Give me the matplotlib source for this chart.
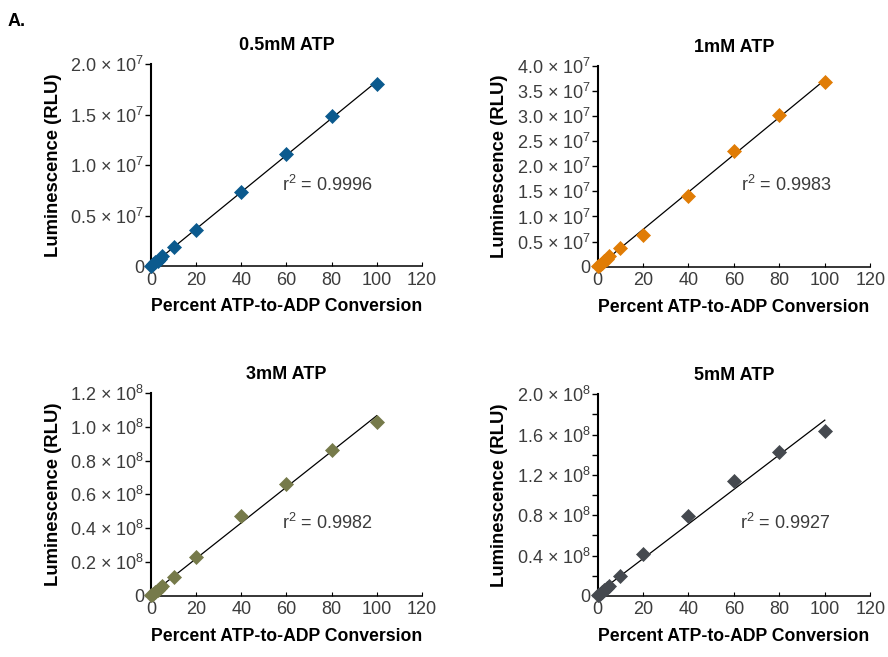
import matplotlib.pyplot as plt
import numpy as np

plt.rcParams["mathtext.fontset"] = "custom"
plt.rcParams["mathtext.rm"] = "Liberation Sans"
plt.rcParams["mathtext.it"] = "Liberation Sans:italic"
plt.rcParams["mathtext.bf"] = "Liberation Sans:bold"

# percent ATP-to-ADP conversion (same for all four panels)
conversion = [0, 1, 2, 3, 4, 5, 10, 20, 40, 60, 80, 100]

# luminescence
rlu_05mm = np.array([0.005, 0.02, 0.04, 0.055, 0.075, 0.10, 0.188, 0.356, 0.733, 1.109, 1.485, 1.81]) * 1e7
rlu_1mm = np.array([0.01, 0.04, 0.08, 0.12, 0.16, 0.22, 0.38, 0.64, 1.41, 2.31, 3.02, 3.68]) * 1e7
rlu_3mm = np.array([0.003, 0.012, 0.022, 0.034, 0.045, 0.06, 0.112, 0.23, 0.473, 0.662, 0.863, 1.029]) * 1e8
rlu_5mm = np.array([0.005, 0.02, 0.035, 0.055, 0.075, 0.10, 0.198, 0.416, 0.792, 1.139, 1.426, 1.634]) * 1e8

titles = ["0.5mM ATP", "1mM ATP", "3mM ATP", "5mM ATP"]
r2_labels = [r"r$^{2}$ = 0.9996", r"r$^{2}$ = 0.9983", r"r$^{2}$ = 0.9982", r"r$^{2}$ = 0.9927"]
colors = ["#0b5a8e", "#e07c05", "#767a4a", "#45494f"]


def sci(m, e):
    return r"%s × 10$^{%d}$" % (m, e)


yticks_05mm = [0, 0.5e7, 1.0e7, 1.5e7, 2.0e7]
yticklabels_05mm = ["0"] + [sci(m, 7) for m in ["0.5", "1.0", "1.5", "2.0"]]
yticks_1mm = [0, 0.5e7, 1.0e7, 1.5e7, 2.0e7, 2.5e7, 3.0e7, 3.5e7, 4.0e7]
yticklabels_1mm = ["0"] + [sci(m, 7) for m in ["0.5", "1.0", "1.5", "2.0", "2.5", "3.0", "3.5", "4.0"]]
yticks_3mm = [0, 0.2e8, 0.4e8, 0.6e8, 0.8e8, 1.0e8, 1.2e8]
yticklabels_3mm = ["0"] + [sci(m, 8) for m in ["0.2", "0.4", "0.6", "0.8", "1.0", "1.2"]]
yticks_5mm = [0, 0.4e8, 0.8e8, 1.2e8, 1.6e8, 2.0e8]
yticklabels_5mm = ["0"] + [sci(m, 8) for m in ["0.4", "0.8", "1.2", "1.6", "2.0"]]
yminor_5mm = [0.2e8, 0.6e8, 1.0e8, 1.4e8, 1.8e8]

xticks = [0, 20, 40, 60, 80, 100, 120]

BOLD = ["Liberation Sans", "DejaVu Sans"]
PLAIN = ["Liberation Sans", "DejaVu Sans"]
GRAY = "#3c3c3c"

panels = [
    (rlu_05mm, yticks_05mm, yticklabels_05mm, None, [0.170, 0.595, 0.305, 0.307], (0.483, 0.40)),
    (rlu_1mm, yticks_1mm, yticklabels_1mm, None, [0.673, 0.594, 0.307, 0.306], (0.527, 0.408)),
    (rlu_3mm, yticks_3mm, yticklabels_3mm, None, [0.170, 0.093, 0.305, 0.309], (0.483, 0.36)),
    (rlu_5mm, yticks_5mm, yticklabels_5mm, yminor_5mm, [0.673, 0.093, 0.307, 0.307], (0.524, 0.36)),
]

fig = plt.figure(figsize=(8.88, 6.57), dpi=100)

for i, (rlu, yt, ytl, yminor, pos, r2_pos) in enumerate(panels):
    ax = fig.add_axes(pos)
    x = np.array(conversion)
    slope, intercept = np.polyfit(x, rlu, 1)
    xfit = np.array([0, 100])
    ax.plot(xfit, slope * xfit + intercept, color="black", lw=0.9, zorder=2)
    ax.plot(x, rlu, linestyle="none", marker="D", ms=7, color=colors[i],
            mec=colors[i], mew=0.5, zorder=3, clip_on=False)

    ax.set_xlim(0, 120)
    ax.set_ylim(0, yt[-1])
    ax.set_xticks(xticks)
    ax.set_xticklabels([str(v) for v in xticks], family=PLAIN, fontsize=13, color=GRAY)
    ax.set_yticks(yt)
    ax.set_yticklabels(ytl, family=PLAIN, fontsize=13, color=GRAY)
    if yminor is not None:
        ax.set_yticks(yminor, minor=True)
        ax.tick_params(axis="y", which="minor", direction="out", length=4, width=1.0)

    for side in ["top", "right"]:
        ax.spines[side].set_visible(False)
    ax.spines["left"].set_linewidth(1.5)
    ax.spines["bottom"].set_linewidth(1.1)
    ax.tick_params(axis="y", which="major", direction="out", length=4, width=1.0, pad=1)
    ax.tick_params(axis="x", direction="in", length=3, width=0.8, pad=4)

    ax.set_title(titles[i], family=BOLD, fontweight="bold", fontsize=13, pad=10)
    ax.set_xlabel("Percent ATP-to-ADP Conversion", family=BOLD, fontweight="bold",
                  fontsize=12.7, labelpad=7)
    ax.set_ylabel("Luminescence (RLU)", family=BOLD, fontweight="bold", fontsize=13.3, labelpad=6)
    ax.text(r2_pos[0], r2_pos[1], r2_labels[i], transform=ax.transAxes,
            family=PLAIN, fontsize=13, color=GRAY, va="center", ha="left")

fig.text(0.009, 0.968, "A.", family=BOLD, fontweight="bold", fontsize=13, va="center")

fig.savefig("out.png", dpi=100)
